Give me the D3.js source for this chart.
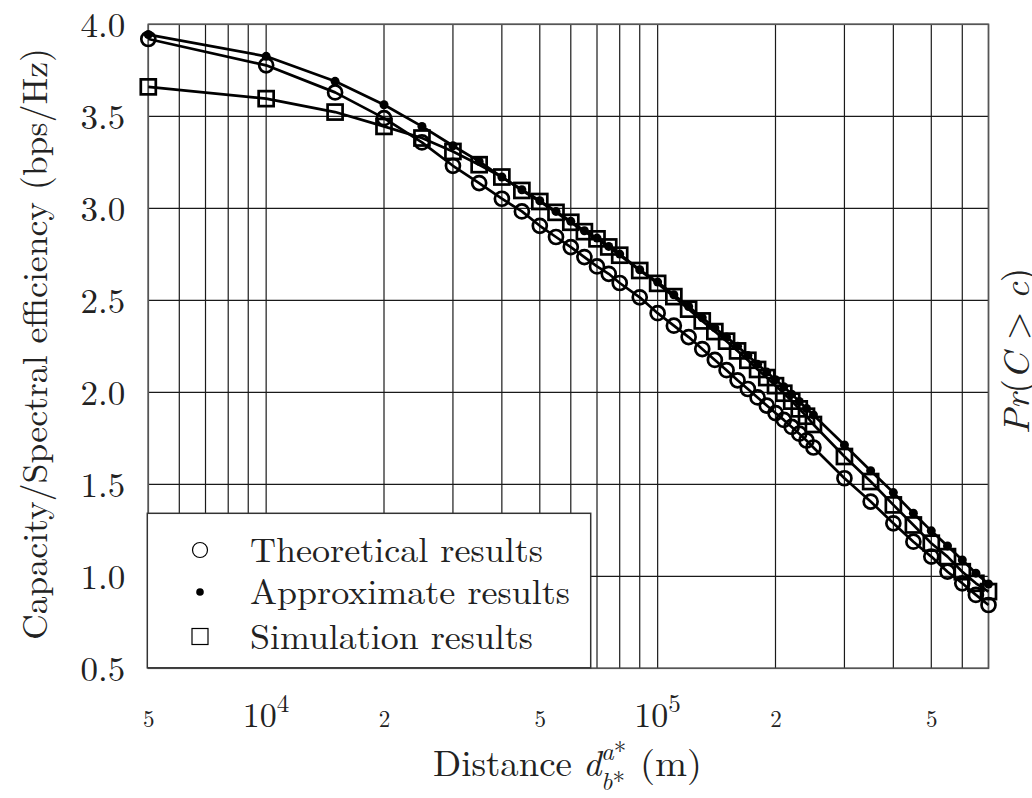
<!DOCTYPE html>
<html><head><meta charset="utf-8">
<script src="https://cdn.jsdelivr.net/npm/d3@7"></script>
<style>body{margin:0;background:#fff} svg{display:block}</style>
</head><body>
<svg id="chart" width="1032" height="798"></svg>
<script>
// ---------- data ----------
const distances = [5000,10000,15000,20000,25000,30000,35000,40000,45000,50000,55000,60000,65000,70000,75000,80000,
  90000,100000,110000,120000,130000,140000,150000,160000,170000,180000,190000,200000,210000,220000,230000,240000,250000,
  300000,350000,400000,450000,500000,550000,600000,650000,700000];
const theoretical = [3.92,3.777,3.63,3.49,3.358,3.231,3.137,3.052,2.983,2.905,2.844,2.789,2.735,2.684,2.644,2.594,
  2.516,2.43,2.362,2.30,2.235,2.176,2.12,2.065,2.018,1.972,1.928,1.887,1.85,1.812,1.775,1.738,1.70,
  1.533,1.406,1.288,1.188,1.107,1.025,0.962,0.899,0.844];
const approximate = [3.944,3.826,3.69,3.563,3.445,3.34,3.255,3.17,3.101,3.041,2.983,2.929,2.878,2.838,2.793,2.751,
  2.666,2.599,2.53,2.466,2.405,2.35,2.30,2.25,2.20,2.152,2.11,2.068,2.03,1.99,1.95,1.912,1.877,
  1.714,1.574,1.455,1.343,1.247,1.165,1.089,1.017,0.958];
const simulation = [3.66,3.596,3.523,3.445,3.382,3.309,3.237,3.17,3.097,3.037,2.978,2.924,2.873,2.834,2.79,2.745,
  2.662,2.592,2.52,2.452,2.388,2.33,2.278,2.225,2.174,2.124,2.08,2.036,1.995,1.952,1.91,1.87,1.825,
  1.651,1.515,1.388,1.279,1.18,1.107,1.025,0.962,0.917];
const yTicks = [0.5,1.0,1.5,2.0,2.5,3.0,3.5,4.0];
const xLabelTicks = [5000,10000,20000,50000,100000,200000,500000];
const xTickText = ["5","10|4","2","5","10|5","2","5"];
const legendNames = ["Theoretical results","Approximate results","Simulation results"];
const legendWidths = [293,320,283];

// ---------- layout ----------
const svg = d3.select("#chart");
const FONT = '"Latin Modern Roman","Liberation Serif",serif';
const L = 148.3, R = 988.5, T = 24.3, B = 668.3;
const x = d3.scaleLog().domain([5000,700000]).range([L,R]);
const y = d3.scaleLinear().domain([0.5,4.0]).range([B,T]);
const INK = "#222";

// grid
const grid = svg.append("g");
grid.selectAll("line.v").data(x.ticks()).join("line")
  .attr("x1",d=>x(d)).attr("x2",d=>x(d)).attr("y1",T).attr("y2",B)
  .attr("stroke","#1a1a1a").attr("stroke-width",1.2);
grid.selectAll("line.h").data(yTicks).join("line")
  .attr("x1",L).attr("x2",R).attr("y1",d=>y(d)).attr("y2",d=>y(d))
  .attr("stroke","#1a1a1a").attr("stroke-width",1.2);
svg.append("rect").attr("x",L).attr("y",T).attr("width",R-L).attr("height",B-T)
  .attr("fill","none").attr("stroke","#555").attr("stroke-width",1.6);

// y axis
const yAxis = svg.append("g").attr("transform",`translate(${L},0)`)
  .call(d3.axisLeft(y).tickValues(yTicks).tickFormat(d3.format(".1f")).tickSize(0).tickPadding(23));
yAxis.attr("font-family",null).attr("font-size",null);
yAxis.select(".domain").remove();
yAxis.selectAll("text").style("font-family",FONT).style("font-size","35px").attr("fill",INK).attr("dy","0.36em");

// x axis labels
const xAxis = svg.append("g").attr("transform",`translate(0,${B})`)
  .call(d3.axisBottom(x).tickValues(xLabelTicks).tickFormat("").tickSize(0));
xAxis.attr("font-family",null).attr("font-size",null);
xAxis.select(".domain").remove();
xAxis.selectAll(".tick text").each(function(d,i){
  const t = d3.select(this).attr("y",59).attr("dy",null).attr("fill",INK).style("font-family",FONT);
  const s = xTickText[i];
  if (s.includes("|")) {
    const [base,exp] = s.split("|");
    t.style("font-size","34px").attr("text-anchor","start").attr("x",-24);
    t.append("tspan").text(base);
    t.append("tspan").style("font-size","25px").attr("dy",-15).text(exp);
  } else {
    t.style("font-size","23px").attr("text-anchor","middle").text(s);
  }
});

// series
const series = [
  {vals:theoretical, mark:"circle"},
  {vals:approximate, mark:"dot"},
  {vals:simulation, mark:"square"}
];
const line = d3.line().x(d=>x(d[0])).y(d=>y(d[1]));
series.forEach(s=>{
  const pts = distances.map((d,i)=>[d,s.vals[i]]);
  svg.append("path").datum(pts).attr("d",line).attr("fill","none")
    .attr("stroke","#000").attr("stroke-width",2.7).attr("stroke-linejoin","round");
  const g = svg.append("g");
  if (s.mark==="circle") {
    g.selectAll("circle").data(pts).join("circle").attr("cx",d=>x(d[0])).attr("cy",d=>y(d[1]))
      .attr("r",7).attr("fill","none").attr("stroke","#000").attr("stroke-width",2.7);
  } else if (s.mark==="dot") {
    g.selectAll("circle").data(pts).join("circle").attr("cx",d=>x(d[0])).attr("cy",d=>y(d[1]))
      .attr("r",4.5).attr("fill","#000");
  } else {
    g.selectAll("rect").data(pts).join("rect").attr("x",d=>x(d[0])-7.5).attr("y",d=>y(d[1])-7.5)
      .attr("width",15).attr("height",15).attr("fill","none").attr("stroke","#000").attr("stroke-width",2.7);
  }
});

// legend
const lg = svg.append("g");
lg.append("rect").attr("x",147.3).attr("y",513.3).attr("width",443.4).attr("height",154.5)
  .attr("fill","#fff").attr("stroke","#333").attr("stroke-width",1.5);
const rowY = [550,592,636.5];
lg.append("circle").attr("cx",200).attr("cy",rowY[0]).attr("r",7.5).attr("fill","none").attr("stroke","#000").attr("stroke-width",1.2);
lg.append("circle").attr("cx",200).attr("cy",rowY[1]).attr("r",3.8).attr("fill","#000");
lg.append("rect").attr("x",192).attr("y",rowY[2]-8).attr("width",16).attr("height",16).attr("fill","none").attr("stroke","#000").attr("stroke-width",1.2);
legendNames.forEach((n,i)=>{
  lg.append("text").attr("x",250).attr("y",rowY[i]+12).style("font-family",FONT).style("font-size","35px")
    .attr("fill",INK).attr("textLength",legendWidths[i]).attr("lengthAdjust","spacingAndGlyphs").text(n);
});

// y label
svg.append("text").attr("transform","translate(47,344) rotate(-90)").attr("text-anchor","middle")
  .style("font-family",FONT).style("font-size","35.5px").attr("fill",INK)
  .attr("textLength",592).attr("lengthAdjust","spacingAndGlyphs")
  .text("Capacity/Spectral efficiency (bps/Hz)");

// right label (cut by the right edge, as in the reference)
const rl = svg.append("text").attr("transform","translate(1029,351) rotate(-90)").attr("text-anchor","middle")
  .style("font-family",FONT).style("font-size","37px").attr("fill",INK);
rl.append("tspan").style("font-style","italic").text("Pr");
rl.append("tspan").text("(");
rl.append("tspan").style("font-style","italic").text("C");
rl.append("tspan").text(" > ");
rl.append("tspan").style("font-style","italic").text("c");
rl.append("tspan").text(")");

// x label
const xl = svg.append("g").attr("fill",INK);
xl.append("text").attr("x",433).attr("y",776).style("font-family",FONT).style("font-size","36px")
  .attr("textLength",139).attr("lengthAdjust","spacingAndGlyphs").text("Distance");
xl.append("text").attr("x",583).attr("y",776).style("font-family",FONT).style("font-size","36px").style("font-style","italic").text("d");
const sup = xl.append("text").attr("x",601).attr("y",760).style("font-family",FONT).style("font-size","25px");
sup.append("tspan").style("font-style","italic").text("a");
sup.append("tspan").text("*");
const sub = xl.append("text").attr("x",601).attr("y",790).style("font-family",FONT).style("font-size","25px");
sub.append("tspan").style("font-style","italic").text("b");
sub.append("tspan").text("*");
xl.append("text").attr("x",640).attr("y",776).style("font-family",FONT).style("font-size","36px")
  .attr("textLength",62).attr("lengthAdjust","spacingAndGlyphs").text("(m)");
</script>
</body></html>
